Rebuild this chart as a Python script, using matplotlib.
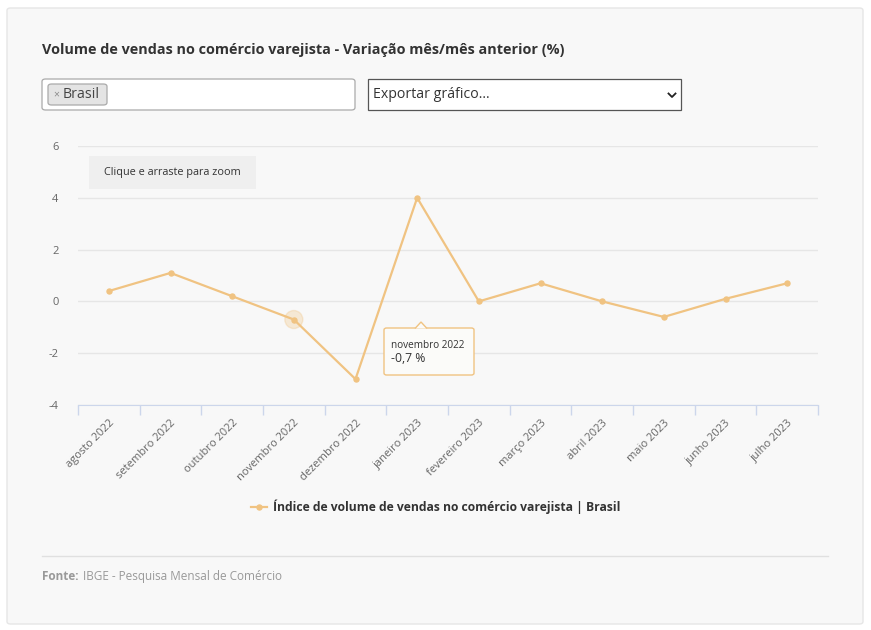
import numpy as np
import matplotlib.pyplot as plt
from matplotlib.patches import FancyBboxPatch, Rectangle, Polygon, Circle
from matplotlib.lines import Line2D

plt.rcParams['font.family'] = ['Open Sans', 'DejaVu Sans']

months = ["agosto 2022", "setembro 2022", "outubro 2022", "novembro 2022",
          "dezembro 2022", "janeiro 2023", "fevereiro 2023", "março 2023",
          "abril 2023", "maio 2023", "junho 2023", "julho 2023"]
values = [0.4, 1.1, 0.2, -0.7, -3.0, 4.0, 0.0, 0.7, 0.0, -0.6, 0.1, 0.7]
y_ticks = [-4, -2, 0, 2, 4, 6]

title = "Volume de vendas no comércio varejista - Variação mês/mês anterior (%)"
series_name = "Índice de volume de vendas no comércio varejista | Brasil"
hover_idx = 3

W, H = 871, 630
line_color = "#f0c382"


def fx(x):
    return x / W


def fy(y):
    return 1 - y / H


fig = plt.figure(figsize=(W / 100, H / 100), dpi=100)
fig.patch.set_facecolor("white")

# card background (behind the axes)
fig.patches.append(FancyBboxPatch((fx(7), fy(624)), fx(856), 616 / H,
                                  boxstyle="round,pad=0,rounding_size=0.004",
                                  transform=fig.transFigure, facecolor="#f8f8f8",
                                  edgecolor="#e6e6e6", lw=1, zorder=-10))

fig.text(fx(42), fy(50), title, fontsize=10.4, fontweight="bold", color="#333333", va="center")

# select box with chip
fig.patches.append(FancyBboxPatch((fx(42), fy(110)), fx(313), 31 / H,
                                  boxstyle="round,pad=0,rounding_size=0.004",
                                  transform=fig.transFigure, facecolor="white",
                                  edgecolor="#aaaaaa", lw=0.9))
fig.patches.append(FancyBboxPatch((fx(48), fy(105)), fx(59), 21 / H,
                                  boxstyle="round,pad=0,rounding_size=0.004",
                                  transform=fig.transFigure, facecolor="#e4e4e4",
                                  edgecolor="#aaaaaa", lw=0.9))
fig.text(fx(53), fy(95), "×", fontsize=7.5, color="#888888", va="center")
fig.text(fx(63), fy(95), "Brasil", fontsize=10.2, color="#444444", va="center")

# export dropdown
fig.patches.append(Rectangle((fx(368), fy(110)), fx(313), 31 / H,
                             transform=fig.transFigure, facecolor="white",
                             edgecolor="#555555", lw=0.9))
fig.text(fx(373), fy(95), "Exportar gráfico...", fontsize=10.2, color="#333333", va="center")
fig.lines.append(Line2D([fx(668.5), fx(672), fx(675.5)], [fy(93.5), fy(97), fy(93.5)],
                        transform=fig.transFigure, color="#222222", lw=1.3))

# chart
ax = fig.add_axes([fx(78), fy(405), fx(740), 259 / H])
ax.set_facecolor("#f8f8f8")
x = np.arange(len(months))
ax.plot(x, values, color=line_color, lw=1.6, marker="o", ms=3.6, zorder=3)
ax.set_xlim(-0.5, len(months) - 0.5)
ax.set_ylim(-4, 6)
ax.set_yticks(y_ticks)
ax.set_yticklabels([str(v) for v in y_ticks], fontsize=8, color="#666666")
ax.tick_params(axis="y", length=0, pad=14)
ax.grid(axis="y", color="#e6e6e6", lw=1)
ax.set_axisbelow(True)
ax.set_xticks(x)
ax.set_xticklabels(months, rotation=45, ha="right", rotation_mode="anchor",
                   fontsize=8, color="#666666")
ax.set_xticks(np.arange(-0.5, len(months), 1), minor=True)
ax.tick_params(axis="x", which="major", length=0, pad=9)
ax.tick_params(axis="x", which="minor", length=7.5, color="#ccd6eb", width=1)
for s in ["top", "right", "left"]:
    ax.spines[s].set_visible(False)
ax.spines["bottom"].set_color("#ccd6eb")

# hover halo, round in pixel space
fig.canvas.draw()
px, py = ax.transData.transform((x[hover_idx], values[hover_idx]))
fig.patches.append(Circle((px, py), 9, transform=None, color=line_color, alpha=0.3, zorder=2))

# zoom button
fig.patches.append(Rectangle((fx(89), fy(189)), fx(167), 33 / H,
                             transform=fig.transFigure, facecolor="#efefef",
                             edgecolor="none", zorder=5))
fig.text(fx(172.5), fy(172.5), "Clique e arraste para zoom", fontsize=7.8,
         color="#333333", ha="center", va="center", zorder=6)

# tooltip
fig.patches.append(FancyBboxPatch((fx(384), fy(375)), fx(90), 47 / H,
                                  boxstyle="round,pad=0,rounding_size=0.003",
                                  transform=fig.transFigure, facecolor="#fbfbf9",
                                  edgecolor=line_color, lw=1, zorder=5))
fig.patches.append(Polygon([(fx(415), fy(328.5)), (fx(421), fy(322)), (fx(427), fy(328.5))],
                           closed=False, transform=fig.transFigure, facecolor="#fbfbf9",
                           edgecolor=line_color, lw=1, zorder=6))
fig.text(fx(391), fy(345), months[hover_idx], fontsize=7.2, color="#333333", va="center", zorder=7)
fig.text(fx(391), fy(359), f"{values[hover_idx]:.1f}".replace(".", ",") + " %",
         fontsize=8.8, color="#333333", va="center", zorder=7)

# legend
fig.lines.append(Line2D([fx(251), fx(267)], [fy(507), fy(507)], transform=fig.transFigure,
                        color=line_color, lw=1.6))
fig.lines.append(Line2D([fx(259)], [fy(507)], transform=fig.transFigure,
                        color=line_color, marker="o", ms=3.6))
fig.text(fx(273), fy(507), series_name, fontsize=8.7, fontweight="bold",
         color="#333333", va="center")

# footer
fig.lines.append(Line2D([fx(42), fx(828)], [fy(556), fy(556)], transform=fig.transFigure,
                        color="#e0e0e0", lw=1))
fig.text(fx(42), fy(580), "Fonte:", fontsize=8.5, fontweight="bold", color="#999999", va="baseline")
fig.text(fx(83), fy(580), "IBGE - Pesquisa Mensal de Comércio", fontsize=8.5,
         color="#999999", va="baseline")

fig.savefig("out.png", dpi=100, facecolor=fig.get_facecolor())
